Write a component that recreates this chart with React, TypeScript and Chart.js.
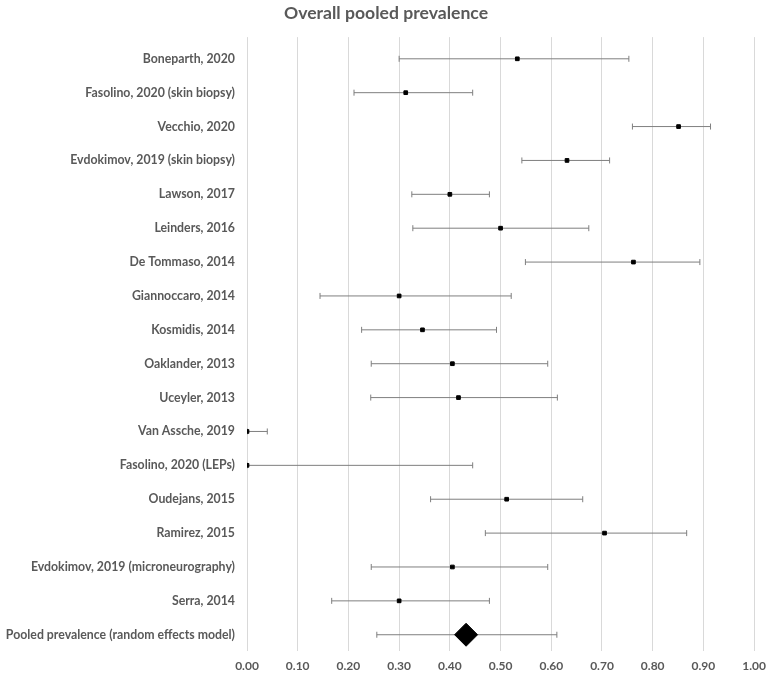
import React, { useEffect, useRef } from "react";
import { Chart, registerables } from "chart.js";

Chart.register(...registerables);

const studies = [
  "Boneparth, 2020",
  "Fasolino, 2020 (skin biopsy)",
  "Vecchio, 2020",
  "Evdokimov, 2019 (skin biopsy)",
  "Lawson, 2017",
  "Leinders, 2016",
  "De Tommaso, 2014",
  "Giannoccaro, 2014",
  "Kosmidis, 2014",
  "Oaklander, 2013",
  "Uceyler, 2013",
  "Van Assche, 2019",
  "Fasolino, 2020 (LEPs)",
  "Oudejans, 2015",
  "Ramirez, 2015",
  "Evdokimov, 2019 (microneurography)",
  "Serra, 2014",
  "Pooled prevalence (random effects model)",
];

const estimate = [0.533, 0.313, 0.851, 0.631, 0.4, 0.5, 0.762, 0.3, 0.346, 0.405, 0.417, 0.0, 0.0, 0.512, 0.705, 0.405, 0.3, 0.432];
const lower = [0.3, 0.211, 0.76, 0.542, 0.325, 0.327, 0.549, 0.144, 0.226, 0.245, 0.244, 0.0, 0.0, 0.362, 0.47, 0.245, 0.167, 0.256];
const upper = [0.753, 0.445, 0.914, 0.715, 0.478, 0.674, 0.893, 0.521, 0.492, 0.593, 0.612, 0.04, 0.445, 0.662, 0.867, 0.593, 0.478, 0.611];

const xTicks = [0, 0.1, 0.2, 0.3, 0.4, 0.5, 0.6, 0.7, 0.8, 0.9, 1.0];

const TEXT = "#595959";
const FONT = "Lato";

export default function App() {
  const ref = useRef<HTMLCanvasElement | null>(null);

  useEffect(() => {
    if (!ref.current) return;
    const n = studies.length;
    const pooledIdx = n - 1;

    const studyPoints = estimate
      .slice(0, pooledIdx)
      .map((v, i) => ({ x: v, y: i }));
    const pooledPoint = [{ x: estimate[pooledIdx], y: pooledIdx }];

    const errorBars = studies.map((_, i) => ({
      type: "line" as const,
      data: [
        { x: lower[i], y: i },
        { x: upper[i], y: i },
      ],
      showLine: true,
      borderColor: "#7f7f7f",
      borderWidth: 1,
      pointStyle: "line" as const,
      rotation: 90,
      pointRadius: 3,
      pointBorderColor: "#7f7f7f",
      pointBorderWidth: 1,
      pointBackgroundColor: "#7f7f7f",
      order: 5,
    }));

    const chart = new Chart(ref.current, {
      type: "scatter",
      data: {
        datasets: [
          {
            data: pooledPoint,
            pointStyle: "rectRot",
            pointRadius: 11.5,
            backgroundColor: "#000000",
            borderColor: "#000000",
            borderWidth: 1,
            order: 0,
          },
          {
            data: studyPoints,
            pointStyle: "rect",
            pointRadius: 2.6,
            backgroundColor: "#000000",
            borderColor: "#000000",
            borderWidth: 1,
            order: 1,
          },
          ...errorBars,
        ] as any,
      },
      options: {
        responsive: false,
        animation: false,
        layout: { padding: { left: 0, right: 2, top: 0, bottom: 0 } },
        plugins: {
          legend: { display: false },
          tooltip: { enabled: false },
          title: {
            display: true,
            text: "Overall pooled prevalence",
            color: TEXT,
            font: { family: FONT, size: 17.6, weight: "bold" },
            padding: { top: 3, bottom: 13 },
          },
        },
        scales: {
          x: {
            type: "linear",
            min: 0,
            max: 1,
            afterBuildTicks: (axis: any) => {
              axis.ticks = xTicks.map((v) => ({ value: v }));
            },
            afterFit: (axis: any) => {
              axis.height = 25;
            },
            ticks: {
              color: TEXT,
              font: { family: FONT, size: 12, weight: "bold" },
              padding: 8,
              maxRotation: 0,
              callback: (v: any) => Number(v).toFixed(2),
            },
            grid: { color: "#d9d9d9", lineWidth: 1, drawTicks: false },
            border: { display: false },
          },
          y: {
            type: "linear",
            reverse: true,
            min: -0.64,
            max: 17.48,
            afterBuildTicks: (axis: any) => {
              axis.ticks = studies.map((_, i) => ({ value: i }));
            },
            afterFit: (axis: any) => {
              axis.width = 247;
            },
            ticks: {
              color: TEXT,
              font: { family: FONT, size: 12.3, weight: "bold" },
              padding: 12,
              autoSkip: false,
              callback: (v: any) => studies[Math.round(Number(v))] ?? "",
            },
            grid: { display: false, drawTicks: false },
            border: { display: false },
          },
        },
      } as any,
    });

    return () => chart.destroy();
  }, []);

  return (
    <div style={{ position: "fixed", left: 0, top: 0, width: 774, height: 676, background: "#ffffff" }}>
      <canvas ref={ref} width={774} height={676} style={{ display: "block" }} />
    </div>
  );
}
